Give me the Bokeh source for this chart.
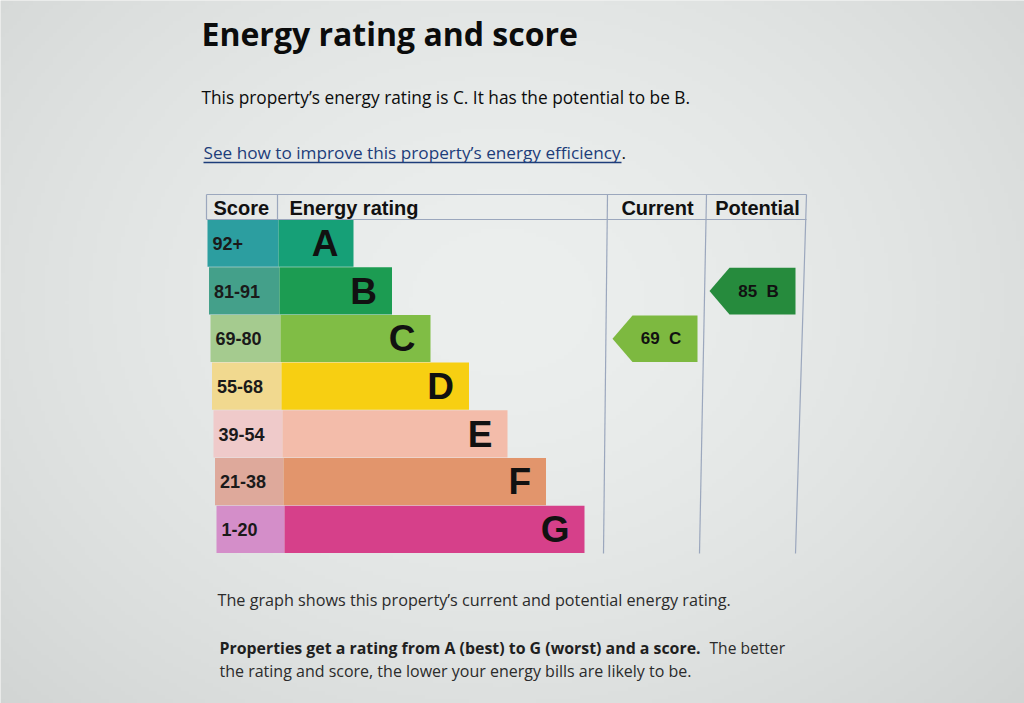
import numpy as np
from bokeh.plotting import figure
from bokeh.models import Range1d, ColumnDataSource
from bokeh.core.properties import value
from bokeh.embed import file_html
from bokeh.resources import INLINE

# EPC data
ratings = ["A", "B", "C", "D", "E", "F", "G"]
score_bands = ["92+", "81-91", "69-80", "55-68", "39-54", "21-38", "1-20"]
bar_colors = ["#16a077", "#1c9c52", "#80bd45", "#f7cf12", "#f3bcaa", "#e2956c", "#d6408a"]
score_colors = ["#2c9ea0", "#44a08a", "#a5cb8f", "#f1d98f", "#efcaca", "#dea99b", "#d48ec9"]
current_score, current_rating = 69, "C"
potential_score, potential_rating = 85, "B"
arrow_colors = {"current": "#7db940", "potential": "#268b3d"}

W, H = 1024, 703

p = figure(width=W, height=H, x_range=Range1d(0, W), y_range=Range1d(H, 0),
           output_backend="svg", toolbar_location=None, tools="", min_border=0)
p.axis.visible = False
p.grid.visible = False
p.outline_line_color = None
p.background_fill_color = "#e3e5e4"
p.border_fill_color = "#e3e5e4"

# photo-like vignette behind everything
gy, gx = np.mgrid[0:176, 0:256]
d = np.sqrt(((gx - 125) / 150.0) ** 2 + ((gy - 75) / 120.0) ** 2)
shade = np.clip(239 - 20 * d ** 1.6, 202, 239)
img = np.zeros((176, 256), dtype=np.uint32)
view = img.view(dtype=np.uint8).reshape((176, 256, 4))
view[:, :, 0] = (shade - 3).astype(np.uint8)
view[:, :, 1] = shade.astype(np.uint8)
view[:, :, 2] = (shade - 1).astype(np.uint8)
view[:, :, 3] = 255
p.image_rgba(image=[img], x=0, y=0, dw=W, dh=H)

BODY = value("Open Sans")
CHART = value("Liberation Sans")

# headings
p.text(x=[201], y=[33], text=["Energy rating and score"], text_font=BODY, text_font_style="bold",
       text_font_size="32px", text_color="#0b0c0c", text_baseline="middle")
p.text(x=[201], y=[97], text=["This property\u2019s energy rating is C. It has the potential to be B."],
       text_font=BODY, text_font_size="17.3px", text_color="#0b0c0c", text_baseline="middle")
p.text(x=[203], y=[152], text=["See how to improve this property\u2019s energy efficiency"],
       text_font=BODY, text_font_size="17.2px", text_color="#1d3d7a", text_baseline="middle")
p.text(x=[621], y=[152], text=["."], text_font=BODY, text_font_size="17.2px",
       text_color="#0b0c0c", text_baseline="middle")
p.segment(x0=[203], y0=[162], x1=[621], y1=[162], line_color="#1d3d7a", line_width=1.3)

# table geometry
tbl_left = 206
head_top, head_bot = 194, 219
row_h = 47.7
bar_end0, bar_step = 353, 38.5
# column lines lean slightly, as in the photo
cur_x = (607, 603)
pot_x = (706, 699)
right_x = (806, 795)

n = len(ratings)
tops = [head_bot + i * row_h for i in range(n)]
bots = [t + row_h - 0.5 for t in tops]
mids = [t + row_h / 2 for t in tops]
rights = [bar_end0 + i * bar_step for i in range(n)]
score_ls = [207 + 1.5 * i for i in range(n)]
bar_ls = [278 + 1.0 * i for i in range(n)]

src = ColumnDataSource(dict(r=ratings, band=score_bands, top=tops, bottom=bots, mid=mids,
                            right=rights, bc=bar_colors, sc=score_colors,
                            sl=score_ls, bl=bar_ls,
                            tx=[s + 5 for s in score_ls], lx=[r - 15 for r in rights]))

p.quad(left="sl", right="bl", top="top", bottom="bottom", fill_color="sc", line_color=None, source=src)
p.quad(left="bl", right="right", top="top", bottom="bottom", fill_color="bc", line_color=None, source=src)
p.text(x="tx", y="mid", text="band", source=src, text_font=CHART, text_font_style="bold",
       text_font_size="18px", text_color="#1a1a1a", text_baseline="middle")
p.text(x="lx", y="mid", text="r", source=src, text_font=CHART, text_font_style="bold",
       text_font_size="37px", text_color="#111111", text_baseline="middle", text_align="right")

# table lines
line_c = "#9ba7bd"
bottom_y = head_bot + n * row_h
p.segment(x0=[tbl_left, tbl_left, 277, tbl_left],
          y0=[head_top, head_bot, head_top, head_top],
          x1=[right_x[0], right_x[0], 277, tbl_left],
          y1=[head_top, head_bot, head_bot, head_bot],
          line_color=line_c, line_width=1.2)
p.segment(x0=[cur_x[0], pot_x[0], right_x[0]], y0=[head_top] * 3,
          x1=[cur_x[1], pot_x[1], right_x[1]], y1=[bottom_y] * 3,
          line_color=line_c, line_width=1.2)

hy = 207
p.text(x=[213, 289], y=[hy, hy], text=["Score", "Energy rating"], text_font=CHART, text_font_style="bold",
       text_font_size="20px", text_color="#111111", text_baseline="middle")
p.text(x=[657, 757], y=[hy, hy], text=["Current", "Potential"],
       text_font=CHART, text_font_style="bold", text_font_size="20px", text_color="#111111",
       text_baseline="middle", text_align="center")


def arrow(tip, end, score, rating, color):
    i = ratings.index(rating)
    t, b = tops[i] + 0.5, bots[i]
    body = tip + 20
    m = (t + b) / 2
    p.patch(x=[tip, body, end, end, body], y=[m, t, t, b, b], fill_color=color, line_color=None)
    p.text(x=[(body + end) / 2 - 4], y=[m], text=[f"{score}\u00a0\u00a0{rating}"], text_font=CHART,
           text_font_style="bold", text_font_size="17px", text_color="#111111",
           text_baseline="middle", text_align="center")


arrow(612, 697, current_score, current_rating, arrow_colors["current"])
arrow(709, 795, potential_score, potential_rating, arrow_colors["potential"])

# notes under the chart
p.text(x=[217], y=[599], text=["The graph shows this property\u2019s current and potential energy rating."],
       text_font=BODY, text_font_size="16.2px", text_color="#2b2b2b", text_baseline="middle")
p.text(x=[219], y=[647], text=["Properties get a rating from A (best) to G (worst) and a score."],
       text_font=BODY, text_font_style="bold", text_font_size="15.9px", text_color="#1f1f1f",
       text_baseline="middle")
p.text(x=[709], y=[647], text=["The better"], text_font=BODY, text_font_size="15.6px",
       text_color="#2b2b2b", text_baseline="middle")
p.text(x=[219], y=[670], text=["the rating and score, the lower your energy bills are likely to be."],
       text_font=BODY, text_font_size="16px", text_color="#2b2b2b", text_baseline="middle")

open("out.html", "w").write(file_html(p, INLINE))
